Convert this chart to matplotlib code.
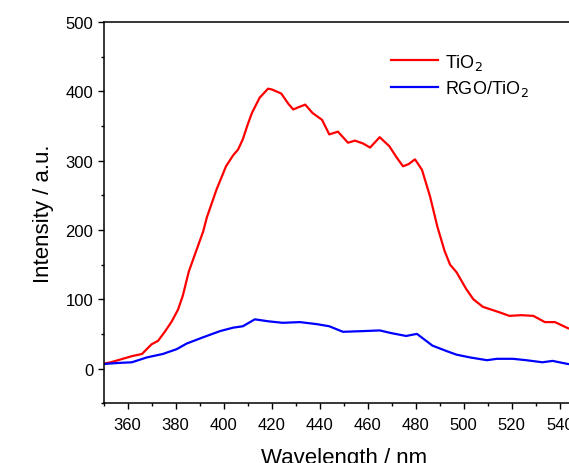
import numpy as np
import matplotlib
matplotlib.use("Agg")
import matplotlib.pyplot as plt
from matplotlib.ticker import MultipleLocator

plt.rcParams['font.family'] = ['Liberation Sans', 'DejaVu Sans']

# TiO2 emission
wl_tio2 = [350, 353, 356, 359, 362, 366, 370, 372.7, 375.5, 378.4, 381, 383, 385.5,
           388.8, 391.5, 393, 397, 401, 404, 406, 408, 410, 411.8, 415, 418.5, 420,
           424, 427, 429, 431, 434, 437, 441, 444, 447.6, 451.8, 454.7, 458, 461,
           465, 469, 472, 474.7, 477, 479.7, 482.6, 486, 489, 492, 494.3, 497, 501,
           504, 508, 515, 519, 524, 529, 533.8, 538, 543.5, 546]
i_tio2 = [7, 9, 12, 15, 18, 21, 35, 40, 53, 68, 85, 105, 140,
          172, 198, 218, 258, 292, 308, 316, 331, 352, 369, 391, 404, 403,
          397, 382, 374, 377, 381, 369, 359, 338, 342, 326, 329, 325, 319,
          334, 321, 305, 292, 295, 302, 287, 248, 205, 170, 150, 139, 115,
          100, 89, 81, 76, 77, 76, 67, 67, 58, 57]

# RGO/TiO2 emission
wl_rgo = [350, 356, 361.8, 368, 374.7, 380.5, 384.6, 391.4, 398.5, 404, 408, 413,
          415, 419, 424.6, 431.8, 438.9, 444, 449.7, 458, 465, 470, 476, 480.5,
          487, 493, 497, 502.6, 509.7, 513.8, 520.5, 526, 532.8, 537, 543.4, 546]
i_rgo = [6.5, 8, 9, 16, 21, 28, 36, 45, 54, 59, 61, 71,
         70, 68, 66, 67, 64, 61, 53, 54, 55, 51, 47, 50,
         33, 25, 20, 16, 12, 14, 14, 12, 9, 11, 6.5, 6]

fig = plt.figure(figsize=(5.69, 4.64), dpi=100)
ax = fig.add_axes([0.182, 0.129, 0.844, 0.821])

ax.plot(wl_tio2, i_tio2, color='#ff0000', lw=1.6, label='TiO$_2$')
ax.plot(wl_rgo, i_rgo, color='#0000ff', lw=1.6, label='RGO/TiO$_2$')

ax.set_xlim(350, 550)
ax.set_ylim(-50, 500)
ax.xaxis.set_major_locator(MultipleLocator(20))
ax.xaxis.set_minor_locator(MultipleLocator(10))
ax.yaxis.set_major_locator(MultipleLocator(100))
ax.yaxis.set_minor_locator(MultipleLocator(50))
ax.tick_params(which='major', direction='out', length=4, width=1, labelsize=12)
ax.tick_params(axis='x', which='major', pad=6)
ax.tick_params(which='minor', direction='out', length=2.5, width=1)
ax.tick_params(top=False, right=False)
for s in ax.spines.values():
    s.set_linewidth(1.1)

ax.set_xlabel('Wavelength / nm', fontsize=16, labelpad=11)
ax.set_ylabel('Intensity / a.u.', fontsize=16, labelpad=8)

ax.legend(loc='upper left', bbox_to_anchor=(0.565, 0.965), frameon=False,
          fontsize=13, handlelength=2.6, handletextpad=0.4, labelspacing=0.35)

fig.savefig('out.png', dpi=100)
